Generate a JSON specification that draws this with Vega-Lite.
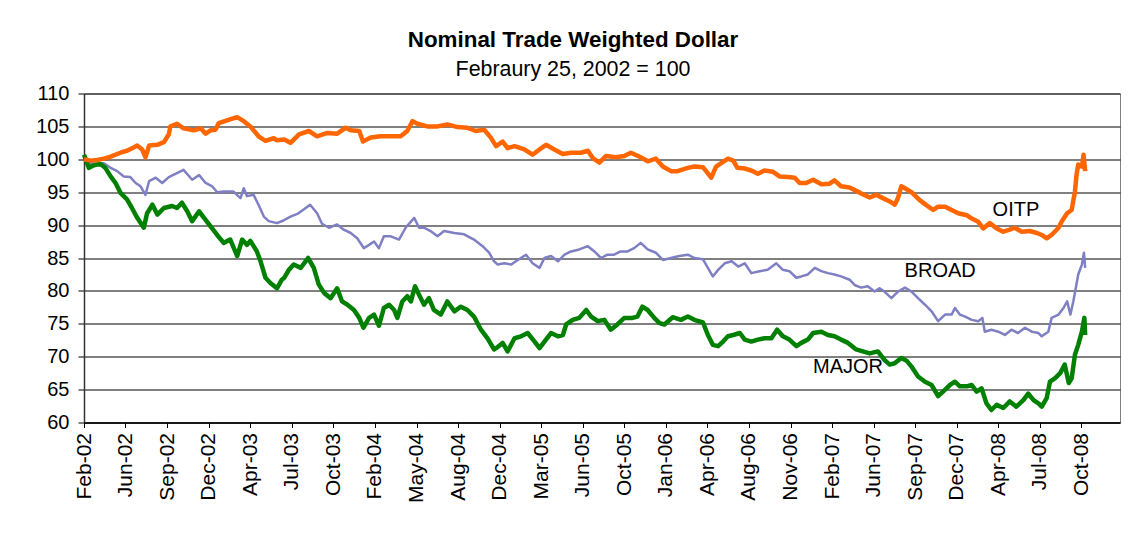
{
"$schema": "https://vega.github.io/schema/vega-lite/v6.json",
"width": 1036,
"height": 329,
"autosize": "none",
"padding": {"left": 84, "top": 93.5, "right": 10, "bottom": 130},
"background": "white",
"title": {"text": "Nominal Trade Weighted Dollar", "subtitle": "Febraury 25, 2002 = 100", "font": "Liberation Sans", "subtitleFont": "Liberation Sans", "fontSize": 22.4, "fontWeight": "bold", "subtitleFontSize": 21.4, "color": "black", "subtitleColor": "black", "anchor": "middle", "dx": -29, "offset": 3, "subtitlePadding": 8},
"config": {"view": {"stroke": "#808080", "strokeWidth": 1}},
"datasets": {
"labels": [
{"d": "2008-05-19", "v": 92.3, "t": "OITP"},
{"d": "2007-11-16", "v": 83.1, "t": "BROAD"},
{"d": "2007-04-05", "v": 68.4, "t": "MAJOR"}
],
"fx": [
{"s":"OITP","d":"2002-02-25","v":100},{"s":"OITP","d":"2002-03-13","v":99.8},{"s":"OITP","d":"2002-03-29","v":99.9},{"s":"OITP","d":"2002-04-15","v":100.1},{"s":"OITP","d":"2002-05-01","v":100.4},{"s":"OITP","d":"2002-05-25","v":101},{"s":"OITP","d":"2002-06-10","v":101.3},{"s":"OITP","d":"2002-06-26","v":101.8},{"s":"OITP","d":"2002-07-05","v":102.1},{"s":"OITP","d":"2002-07-17","v":101.5},{"s":"OITP","d":"2002-07-25","v":100.3},{"s":"OITP","d":"2002-08-03","v":102.1},{"s":"OITP","d":"2002-08-23","v":102.2},{"s":"OITP","d":"2002-09-08","v":102.6},{"s":"OITP","d":"2002-09-20","v":103.8},{"s":"OITP","d":"2002-09-24","v":105},{"s":"OITP","d":"2002-10-10","v":105.4},{"s":"OITP","d":"2002-10-26","v":104.7},{"s":"OITP","d":"2002-11-20","v":104.4},{"s":"OITP","d":"2002-12-07","v":104.7},{"s":"OITP","d":"2002-12-19","v":103.9},{"s":"OITP","d":"2002-12-31","v":104.4},{"s":"OITP","d":"2003-01-12","v":104.5},{"s":"OITP","d":"2003-01-20","v":105.5},{"s":"OITP","d":"2003-02-09","v":105.9},{"s":"OITP","d":"2003-03-06","v":106.4},{"s":"OITP","d":"2003-03-22","v":105.8},{"s":"OITP","d":"2003-04-07","v":105},{"s":"OITP","d":"2003-04-27","v":103.5},{"s":"OITP","d":"2003-05-14","v":102.8},{"s":"OITP","d":"2003-06-03","v":103.2},{"s":"OITP","d":"2003-06-11","v":102.9},{"s":"OITP","d":"2003-06-29","v":103},{"s":"OITP","d":"2003-07-14","v":102.5},{"s":"OITP","d":"2003-08-04","v":103.8},{"s":"OITP","d":"2003-08-28","v":104.3},{"s":"OITP","d":"2003-09-17","v":103.5},{"s":"OITP","d":"2003-10-12","v":104},{"s":"OITP","d":"2003-11-05","v":103.9},{"s":"OITP","d":"2003-11-26","v":104.8},{"s":"OITP","d":"2003-12-08","v":104.4},{"s":"OITP","d":"2003-12-29","v":104.3},{"s":"OITP","d":"2004-01-07","v":102.7},{"s":"OITP","d":"2004-01-26","v":103.3},{"s":"OITP","d":"2004-02-19","v":103.5},{"s":"OITP","d":"2004-03-15","v":103.5},{"s":"OITP","d":"2004-04-08","v":103.5},{"s":"OITP","d":"2004-04-24","v":104.3},{"s":"OITP","d":"2004-05-07","v":105.8},{"s":"OITP","d":"2004-05-19","v":105.4},{"s":"OITP","d":"2004-06-12","v":105},{"s":"OITP","d":"2004-07-07","v":105},{"s":"OITP","d":"2004-07-31","v":105.3},{"s":"OITP","d":"2004-08-25","v":104.9},{"s":"OITP","d":"2004-09-18","v":104.8},{"s":"OITP","d":"2004-10-08","v":104.3},{"s":"OITP","d":"2004-10-29","v":104.5},{"s":"OITP","d":"2004-11-14","v":103.3},{"s":"OITP","d":"2004-11-27","v":102},{"s":"OITP","d":"2004-12-13","v":102.7},{"s":"OITP","d":"2004-12-25","v":101.7},{"s":"OITP","d":"2005-01-11","v":102},{"s":"OITP","d":"2005-02-04","v":101.5},{"s":"OITP","d":"2005-02-24","v":100.7},{"s":"OITP","d":"2005-03-13","v":101.5},{"s":"OITP","d":"2005-03-29","v":102.2},{"s":"OITP","d":"2005-04-18","v":101.5},{"s":"OITP","d":"2005-05-09","v":100.8},{"s":"OITP","d":"2005-05-29","v":101},{"s":"OITP","d":"2005-06-22","v":101},{"s":"OITP","d":"2005-07-09","v":101.3},{"s":"OITP","d":"2005-07-21","v":100.2},{"s":"OITP","d":"2005-08-06","v":99.5},{"s":"OITP","d":"2005-08-22","v":100.5},{"s":"OITP","d":"2005-09-15","v":100.3},{"s":"OITP","d":"2005-10-06","v":100.5},{"s":"OITP","d":"2005-10-22","v":101},{"s":"OITP","d":"2005-11-15","v":100.3},{"s":"OITP","d":"2005-12-02","v":99.7},{"s":"OITP","d":"2005-12-22","v":100.1},{"s":"OITP","d":"2006-01-08","v":98.9},{"s":"OITP","d":"2006-01-28","v":98.2},{"s":"OITP","d":"2006-02-13","v":98.2},{"s":"OITP","d":"2006-03-10","v":98.7},{"s":"OITP","d":"2006-03-26","v":98.9},{"s":"OITP","d":"2006-04-16","v":98.8},{"s":"OITP","d":"2006-05-06","v":97.2},{"s":"OITP","d":"2006-05-18","v":98.9},{"s":"OITP","d":"2006-06-04","v":99.6},{"s":"OITP","d":"2006-06-16","v":100.1},{"s":"OITP","d":"2006-06-29","v":99.8},{"s":"OITP","d":"2006-07-09","v":98.7},{"s":"OITP","d":"2006-07-27","v":98.6},{"s":"OITP","d":"2006-08-16","v":98.2},{"s":"OITP","d":"2006-08-28","v":97.8},{"s":"OITP","d":"2006-09-13","v":98.3},{"s":"OITP","d":"2006-10-04","v":98.1},{"s":"OITP","d":"2006-10-20","v":97.4},{"s":"OITP","d":"2006-11-09","v":97.3},{"s":"OITP","d":"2006-11-26","v":97.2},{"s":"OITP","d":"2006-12-08","v":96.4},{"s":"OITP","d":"2006-12-24","v":96.4},{"s":"OITP","d":"2007-01-10","v":96.9},{"s":"OITP","d":"2007-01-30","v":96.2},{"s":"OITP","d":"2007-02-19","v":96.3},{"s":"OITP","d":"2007-03-03","v":96.8},{"s":"OITP","d":"2007-03-19","v":95.9},{"s":"OITP","d":"2007-04-09","v":95.7},{"s":"OITP","d":"2007-04-25","v":95.2},{"s":"OITP","d":"2007-05-11","v":94.7},{"s":"OITP","d":"2007-05-28","v":94.2},{"s":"OITP","d":"2007-06-13","v":94.6},{"s":"OITP","d":"2007-06-29","v":94.1},{"s":"OITP","d":"2007-07-16","v":93.6},{"s":"OITP","d":"2007-07-28","v":93.1},{"s":"OITP","d":"2007-08-05","v":94.1},{"s":"OITP","d":"2007-08-13","v":95.9},{"s":"OITP","d":"2007-08-22","v":95.6},{"s":"OITP","d":"2007-09-07","v":95},{"s":"OITP","d":"2007-09-27","v":93.8},{"s":"OITP","d":"2007-10-14","v":93},{"s":"OITP","d":"2007-10-30","v":92.3},{"s":"OITP","d":"2007-11-11","v":92.8},{"s":"OITP","d":"2007-11-28","v":92.8},{"s":"OITP","d":"2007-12-14","v":92.3},{"s":"OITP","d":"2007-12-30","v":91.8},{"s":"OITP","d":"2008-01-20","v":91.5},{"s":"OITP","d":"2008-02-01","v":91},{"s":"OITP","d":"2008-02-17","v":90.5},{"s":"OITP","d":"2008-02-29","v":89.5},{"s":"OITP","d":"2008-03-16","v":90.3},{"s":"OITP","d":"2008-04-02","v":89.5},{"s":"OITP","d":"2008-04-18","v":89},{"s":"OITP","d":"2008-05-04","v":89.3},{"s":"OITP","d":"2008-05-16","v":89.6},{"s":"OITP","d":"2008-06-02","v":89},{"s":"OITP","d":"2008-06-22","v":89.1},{"s":"OITP","d":"2008-07-09","v":88.8},{"s":"OITP","d":"2008-07-21","v":88.5},{"s":"OITP","d":"2008-08-02","v":88},{"s":"OITP","d":"2008-08-14","v":88.5},{"s":"OITP","d":"2008-08-31","v":89.6},{"s":"OITP","d":"2008-09-08","v":90.6},{"s":"OITP","d":"2008-09-21","v":91.8},{"s":"OITP","d":"2008-10-02","v":92.3},{"s":"OITP","d":"2008-10-10","v":95.1},{"s":"OITP","d":"2008-10-14","v":97.7},{"s":"OITP","d":"2008-10-18","v":99.2},{"s":"OITP","d":"2008-10-27","v":98.9},{"s":"OITP","d":"2008-10-31","v":100.7},{"s":"OITP","d":"2008-11-04","v":98.2},
{"s":"BROAD","d":"2002-02-25","v":100},{"s":"BROAD","d":"2002-03-13","v":99.4},{"s":"BROAD","d":"2002-03-29","v":99.3},{"s":"BROAD","d":"2002-04-14","v":99.4},{"s":"BROAD","d":"2002-05-01","v":98.7},{"s":"BROAD","d":"2002-05-17","v":98.2},{"s":"BROAD","d":"2002-06-02","v":97.4},{"s":"BROAD","d":"2002-06-18","v":97.3},{"s":"BROAD","d":"2002-07-01","v":96.4},{"s":"BROAD","d":"2002-07-13","v":95.9},{"s":"BROAD","d":"2002-07-25","v":94.6},{"s":"BROAD","d":"2002-08-03","v":96.7},{"s":"BROAD","d":"2002-08-19","v":97.2},{"s":"BROAD","d":"2002-09-04","v":96.4},{"s":"BROAD","d":"2002-09-20","v":97.3},{"s":"BROAD","d":"2002-10-10","v":97.9},{"s":"BROAD","d":"2002-10-26","v":98.4},{"s":"BROAD","d":"2002-11-16","v":96.9},{"s":"BROAD","d":"2002-12-03","v":97.6},{"s":"BROAD","d":"2002-12-19","v":96.4},{"s":"BROAD","d":"2003-01-04","v":95.9},{"s":"BROAD","d":"2003-01-16","v":95},{"s":"BROAD","d":"2003-02-01","v":95.1},{"s":"BROAD","d":"2003-02-25","v":95.1},{"s":"BROAD","d":"2003-03-14","v":94.1},{"s":"BROAD","d":"2003-03-22","v":95.6},{"s":"BROAD","d":"2003-03-30","v":94.4},{"s":"BROAD","d":"2003-04-15","v":94.6},{"s":"BROAD","d":"2003-04-27","v":93.1},{"s":"BROAD","d":"2003-05-10","v":91.3},{"s":"BROAD","d":"2003-05-22","v":90.6},{"s":"BROAD","d":"2003-06-11","v":90.3},{"s":"BROAD","d":"2003-06-27","v":90.7},{"s":"BROAD","d":"2003-07-14","v":91.3},{"s":"BROAD","d":"2003-07-31","v":91.7},{"s":"BROAD","d":"2003-08-16","v":92.4},{"s":"BROAD","d":"2003-08-31","v":93.1},{"s":"BROAD","d":"2003-09-17","v":91.8},{"s":"BROAD","d":"2003-09-29","v":90.2},{"s":"BROAD","d":"2003-10-16","v":89.6},{"s":"BROAD","d":"2003-11-05","v":90.1},{"s":"BROAD","d":"2003-11-21","v":89.3},{"s":"BROAD","d":"2003-12-08","v":88.8},{"s":"BROAD","d":"2003-12-24","v":88},{"s":"BROAD","d":"2004-01-09","v":86.5},{"s":"BROAD","d":"2004-01-22","v":87},{"s":"BROAD","d":"2004-02-03","v":87.5},{"s":"BROAD","d":"2004-02-15","v":86.5},{"s":"BROAD","d":"2004-02-27","v":88.3},{"s":"BROAD","d":"2004-03-15","v":88.3},{"s":"BROAD","d":"2004-04-04","v":87.8},{"s":"BROAD","d":"2004-04-20","v":89.6},{"s":"BROAD","d":"2004-05-11","v":91.1},{"s":"BROAD","d":"2004-05-23","v":89.6},{"s":"BROAD","d":"2004-06-04","v":89.6},{"s":"BROAD","d":"2004-06-20","v":89.1},{"s":"BROAD","d":"2004-07-07","v":88.3},{"s":"BROAD","d":"2004-07-23","v":89.1},{"s":"BROAD","d":"2004-08-17","v":88.8},{"s":"BROAD","d":"2004-09-10","v":88.6},{"s":"BROAD","d":"2004-10-04","v":87.8},{"s":"BROAD","d":"2004-10-25","v":86.8},{"s":"BROAD","d":"2004-11-10","v":85.8},{"s":"BROAD","d":"2004-11-22","v":84.5},{"s":"BROAD","d":"2004-12-01","v":84},{"s":"BROAD","d":"2004-12-17","v":84.2},{"s":"BROAD","d":"2005-01-03","v":84},{"s":"BROAD","d":"2005-01-19","v":84.7},{"s":"BROAD","d":"2005-02-08","v":85.5},{"s":"BROAD","d":"2005-02-24","v":84.2},{"s":"BROAD","d":"2005-03-13","v":83.5},{"s":"BROAD","d":"2005-03-25","v":85},{"s":"BROAD","d":"2005-04-10","v":85.3},{"s":"BROAD","d":"2005-04-27","v":84.5},{"s":"BROAD","d":"2005-05-13","v":85.5},{"s":"BROAD","d":"2005-05-29","v":86},{"s":"BROAD","d":"2005-06-18","v":86.3},{"s":"BROAD","d":"2005-07-09","v":86.8},{"s":"BROAD","d":"2005-07-25","v":86},{"s":"BROAD","d":"2005-08-10","v":85},{"s":"BROAD","d":"2005-08-26","v":85.5},{"s":"BROAD","d":"2005-09-11","v":85.5},{"s":"BROAD","d":"2005-09-27","v":86},{"s":"BROAD","d":"2005-10-14","v":86},{"s":"BROAD","d":"2005-10-30","v":86.5},{"s":"BROAD","d":"2005-11-15","v":87.3},{"s":"BROAD","d":"2005-12-02","v":86.3},{"s":"BROAD","d":"2005-12-22","v":85.8},{"s":"BROAD","d":"2006-01-08","v":84.7},{"s":"BROAD","d":"2006-01-28","v":85},{"s":"BROAD","d":"2006-02-17","v":85.3},{"s":"BROAD","d":"2006-03-10","v":85.5},{"s":"BROAD","d":"2006-03-26","v":85},{"s":"BROAD","d":"2006-04-16","v":84.8},{"s":"BROAD","d":"2006-04-28","v":83.5},{"s":"BROAD","d":"2006-05-10","v":82.2},{"s":"BROAD","d":"2006-05-23","v":83.2},{"s":"BROAD","d":"2006-06-08","v":84.2},{"s":"BROAD","d":"2006-06-25","v":84.5},{"s":"BROAD","d":"2006-07-11","v":83.7},{"s":"BROAD","d":"2006-07-27","v":84.2},{"s":"BROAD","d":"2006-08-12","v":82.7},{"s":"BROAD","d":"2006-09-01","v":83},{"s":"BROAD","d":"2006-09-21","v":83.2},{"s":"BROAD","d":"2006-10-12","v":84.2},{"s":"BROAD","d":"2006-10-28","v":83.2},{"s":"BROAD","d":"2006-11-13","v":83},{"s":"BROAD","d":"2006-11-30","v":82},{"s":"BROAD","d":"2006-12-12","v":82.2},{"s":"BROAD","d":"2006-12-28","v":82.5},{"s":"BROAD","d":"2007-01-14","v":83.5},{"s":"BROAD","d":"2007-01-30","v":83},{"s":"BROAD","d":"2007-02-15","v":82.7},{"s":"BROAD","d":"2007-03-03","v":82.5},{"s":"BROAD","d":"2007-03-19","v":82.2},{"s":"BROAD","d":"2007-04-09","v":81.7},{"s":"BROAD","d":"2007-04-21","v":80.9},{"s":"BROAD","d":"2007-05-07","v":80.5},{"s":"BROAD","d":"2007-05-23","v":80.7},{"s":"BROAD","d":"2007-06-09","v":79.9},{"s":"BROAD","d":"2007-06-21","v":80.4},{"s":"BROAD","d":"2007-07-03","v":79.9},{"s":"BROAD","d":"2007-07-20","v":78.9},{"s":"BROAD","d":"2007-08-05","v":79.9},{"s":"BROAD","d":"2007-08-22","v":80.5},{"s":"BROAD","d":"2007-09-07","v":79.9},{"s":"BROAD","d":"2007-09-23","v":78.9},{"s":"BROAD","d":"2007-10-10","v":77.9},{"s":"BROAD","d":"2007-10-26","v":76.9},{"s":"BROAD","d":"2007-11-11","v":75.4},{"s":"BROAD","d":"2007-11-28","v":76.4},{"s":"BROAD","d":"2007-12-14","v":76.4},{"s":"BROAD","d":"2007-12-22","v":77.4},{"s":"BROAD","d":"2008-01-03","v":76.4},{"s":"BROAD","d":"2008-01-16","v":76.1},{"s":"BROAD","d":"2008-02-01","v":75.6},{"s":"BROAD","d":"2008-02-17","v":75.4},{"s":"BROAD","d":"2008-02-27","v":75.9},{"s":"BROAD","d":"2008-03-04","v":73.8},{"s":"BROAD","d":"2008-03-20","v":74.1},{"s":"BROAD","d":"2008-04-06","v":73.8},{"s":"BROAD","d":"2008-04-22","v":73.3},{"s":"BROAD","d":"2008-05-08","v":74.1},{"s":"BROAD","d":"2008-05-24","v":73.6},{"s":"BROAD","d":"2008-06-10","v":74.4},{"s":"BROAD","d":"2008-06-27","v":73.8},{"s":"BROAD","d":"2008-07-13","v":73.6},{"s":"BROAD","d":"2008-07-21","v":73.1},{"s":"BROAD","d":"2008-08-06","v":73.8},{"s":"BROAD","d":"2008-08-14","v":75.9},{"s":"BROAD","d":"2008-08-31","v":76.4},{"s":"BROAD","d":"2008-09-12","v":77.4},{"s":"BROAD","d":"2008-09-21","v":78.4},{"s":"BROAD","d":"2008-09-29","v":76.4},{"s":"BROAD","d":"2008-10-06","v":78.4},{"s":"BROAD","d":"2008-10-12","v":80.4},{"s":"BROAD","d":"2008-10-18","v":82.5},{"s":"BROAD","d":"2008-10-27","v":84},{"s":"BROAD","d":"2008-11-01","v":85.8},{"s":"BROAD","d":"2008-11-04","v":83.5},
{"s":"MAJOR","d":"2002-02-25","v":100.7},{"s":"MAJOR","d":"2002-03-09","v":98.7},{"s":"MAJOR","d":"2002-03-21","v":99.1},{"s":"MAJOR","d":"2002-04-06","v":99.3},{"s":"MAJOR","d":"2002-04-18","v":98.7},{"s":"MAJOR","d":"2002-05-01","v":97.4},{"s":"MAJOR","d":"2002-05-13","v":96.4},{"s":"MAJOR","d":"2002-05-25","v":94.9},{"s":"MAJOR","d":"2002-06-10","v":93.9},{"s":"MAJOR","d":"2002-06-22","v":92.6},{"s":"MAJOR","d":"2002-07-05","v":91.1},{"s":"MAJOR","d":"2002-07-21","v":89.6},{"s":"MAJOR","d":"2002-07-29","v":91.8},{"s":"MAJOR","d":"2002-08-11","v":93.1},{"s":"MAJOR","d":"2002-08-23","v":91.6},{"s":"MAJOR","d":"2002-09-08","v":92.6},{"s":"MAJOR","d":"2002-09-28","v":92.9},{"s":"MAJOR","d":"2002-10-10","v":92.6},{"s":"MAJOR","d":"2002-10-22","v":93.4},{"s":"MAJOR","d":"2002-11-04","v":92.1},{"s":"MAJOR","d":"2002-11-16","v":90.6},{"s":"MAJOR","d":"2002-12-03","v":92.1},{"s":"MAJOR","d":"2002-12-15","v":91.1},{"s":"MAJOR","d":"2002-12-31","v":89.8},{"s":"MAJOR","d":"2003-01-16","v":88.5},{"s":"MAJOR","d":"2003-02-01","v":87.3},{"s":"MAJOR","d":"2003-02-17","v":87.8},{"s":"MAJOR","d":"2003-03-06","v":85.3},{"s":"MAJOR","d":"2003-03-18","v":87.8},{"s":"MAJOR","d":"2003-03-30","v":87},{"s":"MAJOR","d":"2003-04-07","v":87.6},{"s":"MAJOR","d":"2003-04-23","v":86},{"s":"MAJOR","d":"2003-05-02","v":84.5},{"s":"MAJOR","d":"2003-05-14","v":82},{"s":"MAJOR","d":"2003-05-26","v":81.2},{"s":"MAJOR","d":"2003-06-11","v":80.4},{"s":"MAJOR","d":"2003-06-23","v":81.7},{"s":"MAJOR","d":"2003-06-29","v":82},{"s":"MAJOR","d":"2003-07-10","v":83.2},{"s":"MAJOR","d":"2003-07-22","v":84},{"s":"MAJOR","d":"2003-08-08","v":83.5},{"s":"MAJOR","d":"2003-08-26","v":85},{"s":"MAJOR","d":"2003-09-09","v":83.5},{"s":"MAJOR","d":"2003-09-21","v":81},{"s":"MAJOR","d":"2003-10-04","v":79.7},{"s":"MAJOR","d":"2003-10-20","v":78.9},{"s":"MAJOR","d":"2003-11-05","v":80.4},{"s":"MAJOR","d":"2003-11-17","v":78.4},{"s":"MAJOR","d":"2003-11-30","v":77.9},{"s":"MAJOR","d":"2003-12-16","v":77.1},{"s":"MAJOR","d":"2003-12-29","v":75.9},{"s":"MAJOR","d":"2004-01-08","v":74.4},{"s":"MAJOR","d":"2004-01-22","v":75.9},{"s":"MAJOR","d":"2004-02-03","v":76.4},{"s":"MAJOR","d":"2004-02-15","v":74.7},{"s":"MAJOR","d":"2004-02-27","v":77.4},{"s":"MAJOR","d":"2004-03-11","v":77.9},{"s":"MAJOR","d":"2004-03-23","v":77.1},{"s":"MAJOR","d":"2004-03-31","v":75.9},{"s":"MAJOR","d":"2004-04-12","v":78.4},{"s":"MAJOR","d":"2004-04-24","v":79.2},{"s":"MAJOR","d":"2004-05-03","v":78.4},{"s":"MAJOR","d":"2004-05-13","v":80.7},{"s":"MAJOR","d":"2004-05-23","v":79.4},{"s":"MAJOR","d":"2004-06-04","v":77.9},{"s":"MAJOR","d":"2004-06-16","v":78.9},{"s":"MAJOR","d":"2004-06-28","v":77.1},{"s":"MAJOR","d":"2004-07-15","v":76.4},{"s":"MAJOR","d":"2004-07-31","v":78.4},{"s":"MAJOR","d":"2004-08-17","v":76.9},{"s":"MAJOR","d":"2004-09-02","v":77.6},{"s":"MAJOR","d":"2004-09-18","v":77.1},{"s":"MAJOR","d":"2004-10-04","v":76.1},{"s":"MAJOR","d":"2004-10-21","v":74.1},{"s":"MAJOR","d":"2004-11-06","v":72.8},{"s":"MAJOR","d":"2004-11-22","v":71.1},{"s":"MAJOR","d":"2004-11-27","v":71.3},{"s":"MAJOR","d":"2004-12-13","v":72.1},{"s":"MAJOR","d":"2004-12-25","v":70.8},{"s":"MAJOR","d":"2005-01-11","v":72.8},{"s":"MAJOR","d":"2005-01-27","v":73.1},{"s":"MAJOR","d":"2005-02-12","v":73.6},{"s":"MAJOR","d":"2005-03-01","v":72.3},{"s":"MAJOR","d":"2005-03-13","v":71.3},{"s":"MAJOR","d":"2005-03-25","v":72.3},{"s":"MAJOR","d":"2005-04-10","v":73.6},{"s":"MAJOR","d":"2005-04-27","v":73.1},{"s":"MAJOR","d":"2005-05-09","v":73.3},{"s":"MAJOR","d":"2005-05-17","v":74.9},{"s":"MAJOR","d":"2005-06-02","v":75.6},{"s":"MAJOR","d":"2005-06-18","v":75.9},{"s":"MAJOR","d":"2005-07-05","v":77.1},{"s":"MAJOR","d":"2005-07-17","v":76.1},{"s":"MAJOR","d":"2005-08-02","v":75.4},{"s":"MAJOR","d":"2005-08-18","v":75.6},{"s":"MAJOR","d":"2005-09-03","v":74.1},{"s":"MAJOR","d":"2005-09-19","v":74.9},{"s":"MAJOR","d":"2005-10-06","v":75.9},{"s":"MAJOR","d":"2005-10-26","v":75.9},{"s":"MAJOR","d":"2005-11-07","v":76.1},{"s":"MAJOR","d":"2005-11-19","v":77.6},{"s":"MAJOR","d":"2005-12-02","v":77.1},{"s":"MAJOR","d":"2005-12-18","v":75.9},{"s":"MAJOR","d":"2005-12-31","v":75.1},{"s":"MAJOR","d":"2006-01-12","v":74.9},{"s":"MAJOR","d":"2006-02-01","v":76},{"s":"MAJOR","d":"2006-02-21","v":75.6},{"s":"MAJOR","d":"2006-03-10","v":76.1},{"s":"MAJOR","d":"2006-03-26","v":75.6},{"s":"MAJOR","d":"2006-04-16","v":75.2},{"s":"MAJOR","d":"2006-04-28","v":73.3},{"s":"MAJOR","d":"2006-05-10","v":71.8},{"s":"MAJOR","d":"2006-05-23","v":71.6},{"s":"MAJOR","d":"2006-06-04","v":72.3},{"s":"MAJOR","d":"2006-06-16","v":73.1},{"s":"MAJOR","d":"2006-06-29","v":73.3},{"s":"MAJOR","d":"2006-07-15","v":73.6},{"s":"MAJOR","d":"2006-07-27","v":72.6},{"s":"MAJOR","d":"2006-08-12","v":72.3},{"s":"MAJOR","d":"2006-08-28","v":72.6},{"s":"MAJOR","d":"2006-09-13","v":72.8},{"s":"MAJOR","d":"2006-09-30","v":72.8},{"s":"MAJOR","d":"2006-10-14","v":74.1},{"s":"MAJOR","d":"2006-10-28","v":73.1},{"s":"MAJOR","d":"2006-11-13","v":72.6},{"s":"MAJOR","d":"2006-11-30","v":71.6},{"s":"MAJOR","d":"2006-12-12","v":72.1},{"s":"MAJOR","d":"2006-12-28","v":72.6},{"s":"MAJOR","d":"2007-01-10","v":73.6},{"s":"MAJOR","d":"2007-01-30","v":73.8},{"s":"MAJOR","d":"2007-02-15","v":73.3},{"s":"MAJOR","d":"2007-03-03","v":73.1},{"s":"MAJOR","d":"2007-03-19","v":72.6},{"s":"MAJOR","d":"2007-04-05","v":72.1},{"s":"MAJOR","d":"2007-04-25","v":71.1},{"s":"MAJOR","d":"2007-05-11","v":70.8},{"s":"MAJOR","d":"2007-05-28","v":70.5},{"s":"MAJOR","d":"2007-06-17","v":70.8},{"s":"MAJOR","d":"2007-07-03","v":69.5},{"s":"MAJOR","d":"2007-07-16","v":68.8},{"s":"MAJOR","d":"2007-07-28","v":69},{"s":"MAJOR","d":"2007-08-13","v":69.8},{"s":"MAJOR","d":"2007-08-26","v":69.4},{"s":"MAJOR","d":"2007-09-07","v":68.5},{"s":"MAJOR","d":"2007-09-23","v":67},{"s":"MAJOR","d":"2007-10-10","v":66.2},{"s":"MAJOR","d":"2007-10-26","v":65.7},{"s":"MAJOR","d":"2007-11-11","v":64},{"s":"MAJOR","d":"2007-11-23","v":64.7},{"s":"MAJOR","d":"2007-12-10","v":65.7},{"s":"MAJOR","d":"2007-12-22","v":66.2},{"s":"MAJOR","d":"2008-01-03","v":65.5},{"s":"MAJOR","d":"2008-01-20","v":65.5},{"s":"MAJOR","d":"2008-02-01","v":65.7},{"s":"MAJOR","d":"2008-02-13","v":64.7},{"s":"MAJOR","d":"2008-02-25","v":65.2},{"s":"MAJOR","d":"2008-03-08","v":62.9},{"s":"MAJOR","d":"2008-03-20","v":61.9},{"s":"MAJOR","d":"2008-04-02","v":62.7},{"s":"MAJOR","d":"2008-04-18","v":62.2},{"s":"MAJOR","d":"2008-05-04","v":63.2},{"s":"MAJOR","d":"2008-05-20","v":62.4},{"s":"MAJOR","d":"2008-06-06","v":63.4},{"s":"MAJOR","d":"2008-06-18","v":64.4},{"s":"MAJOR","d":"2008-07-01","v":63.4},{"s":"MAJOR","d":"2008-07-13","v":62.9},{"s":"MAJOR","d":"2008-07-21","v":62.4},{"s":"MAJOR","d":"2008-08-02","v":63.7},{"s":"MAJOR","d":"2008-08-10","v":66.2},{"s":"MAJOR","d":"2008-08-22","v":66.7},{"s":"MAJOR","d":"2008-09-04","v":67.5},{"s":"MAJOR","d":"2008-09-15","v":68.8},{"s":"MAJOR","d":"2008-09-25","v":66},{"s":"MAJOR","d":"2008-10-02","v":66.7},{"s":"MAJOR","d":"2008-10-10","v":70.3},{"s":"MAJOR","d":"2008-10-18","v":71.8},{"s":"MAJOR","d":"2008-10-27","v":73.8},{"s":"MAJOR","d":"2008-11-02","v":75.9},{"s":"MAJOR","d":"2008-11-04","v":73.3}
]
},
"encoding": {
"x": {"field": "d", "type": "temporal", "scale": {"type": "utc", "domain": [{"year": 2002, "month": 2, "date": 25, "utc": true}, {"year": 2009, "month": 1, "date": 28, "utc": true}]},
"axis": {"title": null, "format": "%b-%y", "labelAngle": -90, "labelFontSize": 21, "labelFont": "Liberation Sans", "labelColor": "black", "labelPadding": 5, "labelOverlap": false, "labelFlush": false, "labelBound": false, "grid": false, "domainColor": "black", "domainWidth": 1.5, "tickColor": "black", "tickSize": 5, "tickWidth": 1,
"values": [
{"year":2002,"month":2,"date":25,"utc":true},{"year":2002,"month":6,"date":6,"utc":true},{"year":2002,"month":9,"date":16,"utc":true},{"year":2002,"month":12,"date":26,"utc":true},{"year":2003,"month":4,"date":7,"utc":true},{"year":2003,"month":7,"date":17,"utc":true},{"year":2003,"month":10,"date":27,"utc":true},{"year":2004,"month":2,"date":5,"utc":true},{"year":2004,"month":5,"date":17,"utc":true},{"year":2004,"month":8,"date":26,"utc":true},{"year":2004,"month":12,"date":6,"utc":true},{"year":2005,"month":3,"date":17,"utc":true},{"year":2005,"month":6,"date":26,"utc":true},{"year":2005,"month":10,"date":6,"utc":true},{"year":2006,"month":1,"date":15,"utc":true},{"year":2006,"month":4,"date":27,"utc":true},{"year":2006,"month":8,"date":6,"utc":true},{"year":2006,"month":11,"date":16,"utc":true},{"year":2007,"month":2,"date":25,"utc":true},{"year":2007,"month":6,"date":7,"utc":true},{"year":2007,"month":9,"date":16,"utc":true},{"year":2007,"month":12,"date":27,"utc":true},{"year":2008,"month":4,"date":6,"utc":true},{"year":2008,"month":7,"date":16,"utc":true},{"year":2008,"month":10,"date":26,"utc":true}
]}},
"y": {"field": "v", "type": "quantitative", "scale": {"domain": [60, 110], "nice": false, "zero": false},
"axis": {"title": null, "values": [60,65,70,75,80,85,90,95,100,105,110], "labelOverlap": false, "labelFontSize": 20, "labelFont": "Liberation Sans", "labelColor": "black", "labelPadding": 9, "grid": true, "gridColor": "black", "gridWidth": 1, "domainColor": "#333333", "domainWidth": 1.5, "tickColor": "black", "tickSize": 6}}
},
"layer": [
{
"data": {"name": "fx"},
"transform": [{"filter": "datum.s == 'BROAD'"}],
"mark": {"type": "line", "color": "#7F7FC4", "strokeWidth": 2.5, "strokeJoin": "round"}
},
{
"data": {"name": "fx"},
"transform": [{"filter": "datum.s == 'MAJOR'"}],
"mark": {"type": "line", "color": "#008000", "strokeWidth": 4.5, "strokeJoin": "round"}
},
{
"data": {"name": "fx"},
"transform": [{"filter": "datum.s == 'OITP'"}],
"mark": {"type": "line", "color": "#FF6600", "strokeWidth": 4.5, "strokeJoin": "round"}
},
{
"data": {"name": "labels"},
"mark": {"type": "text", "font": "Liberation Sans", "fontSize": 20, "color": "black", "align": "center", "baseline": "middle"},
"encoding": {
"text": {"field": "t"}
}
}
]
}
